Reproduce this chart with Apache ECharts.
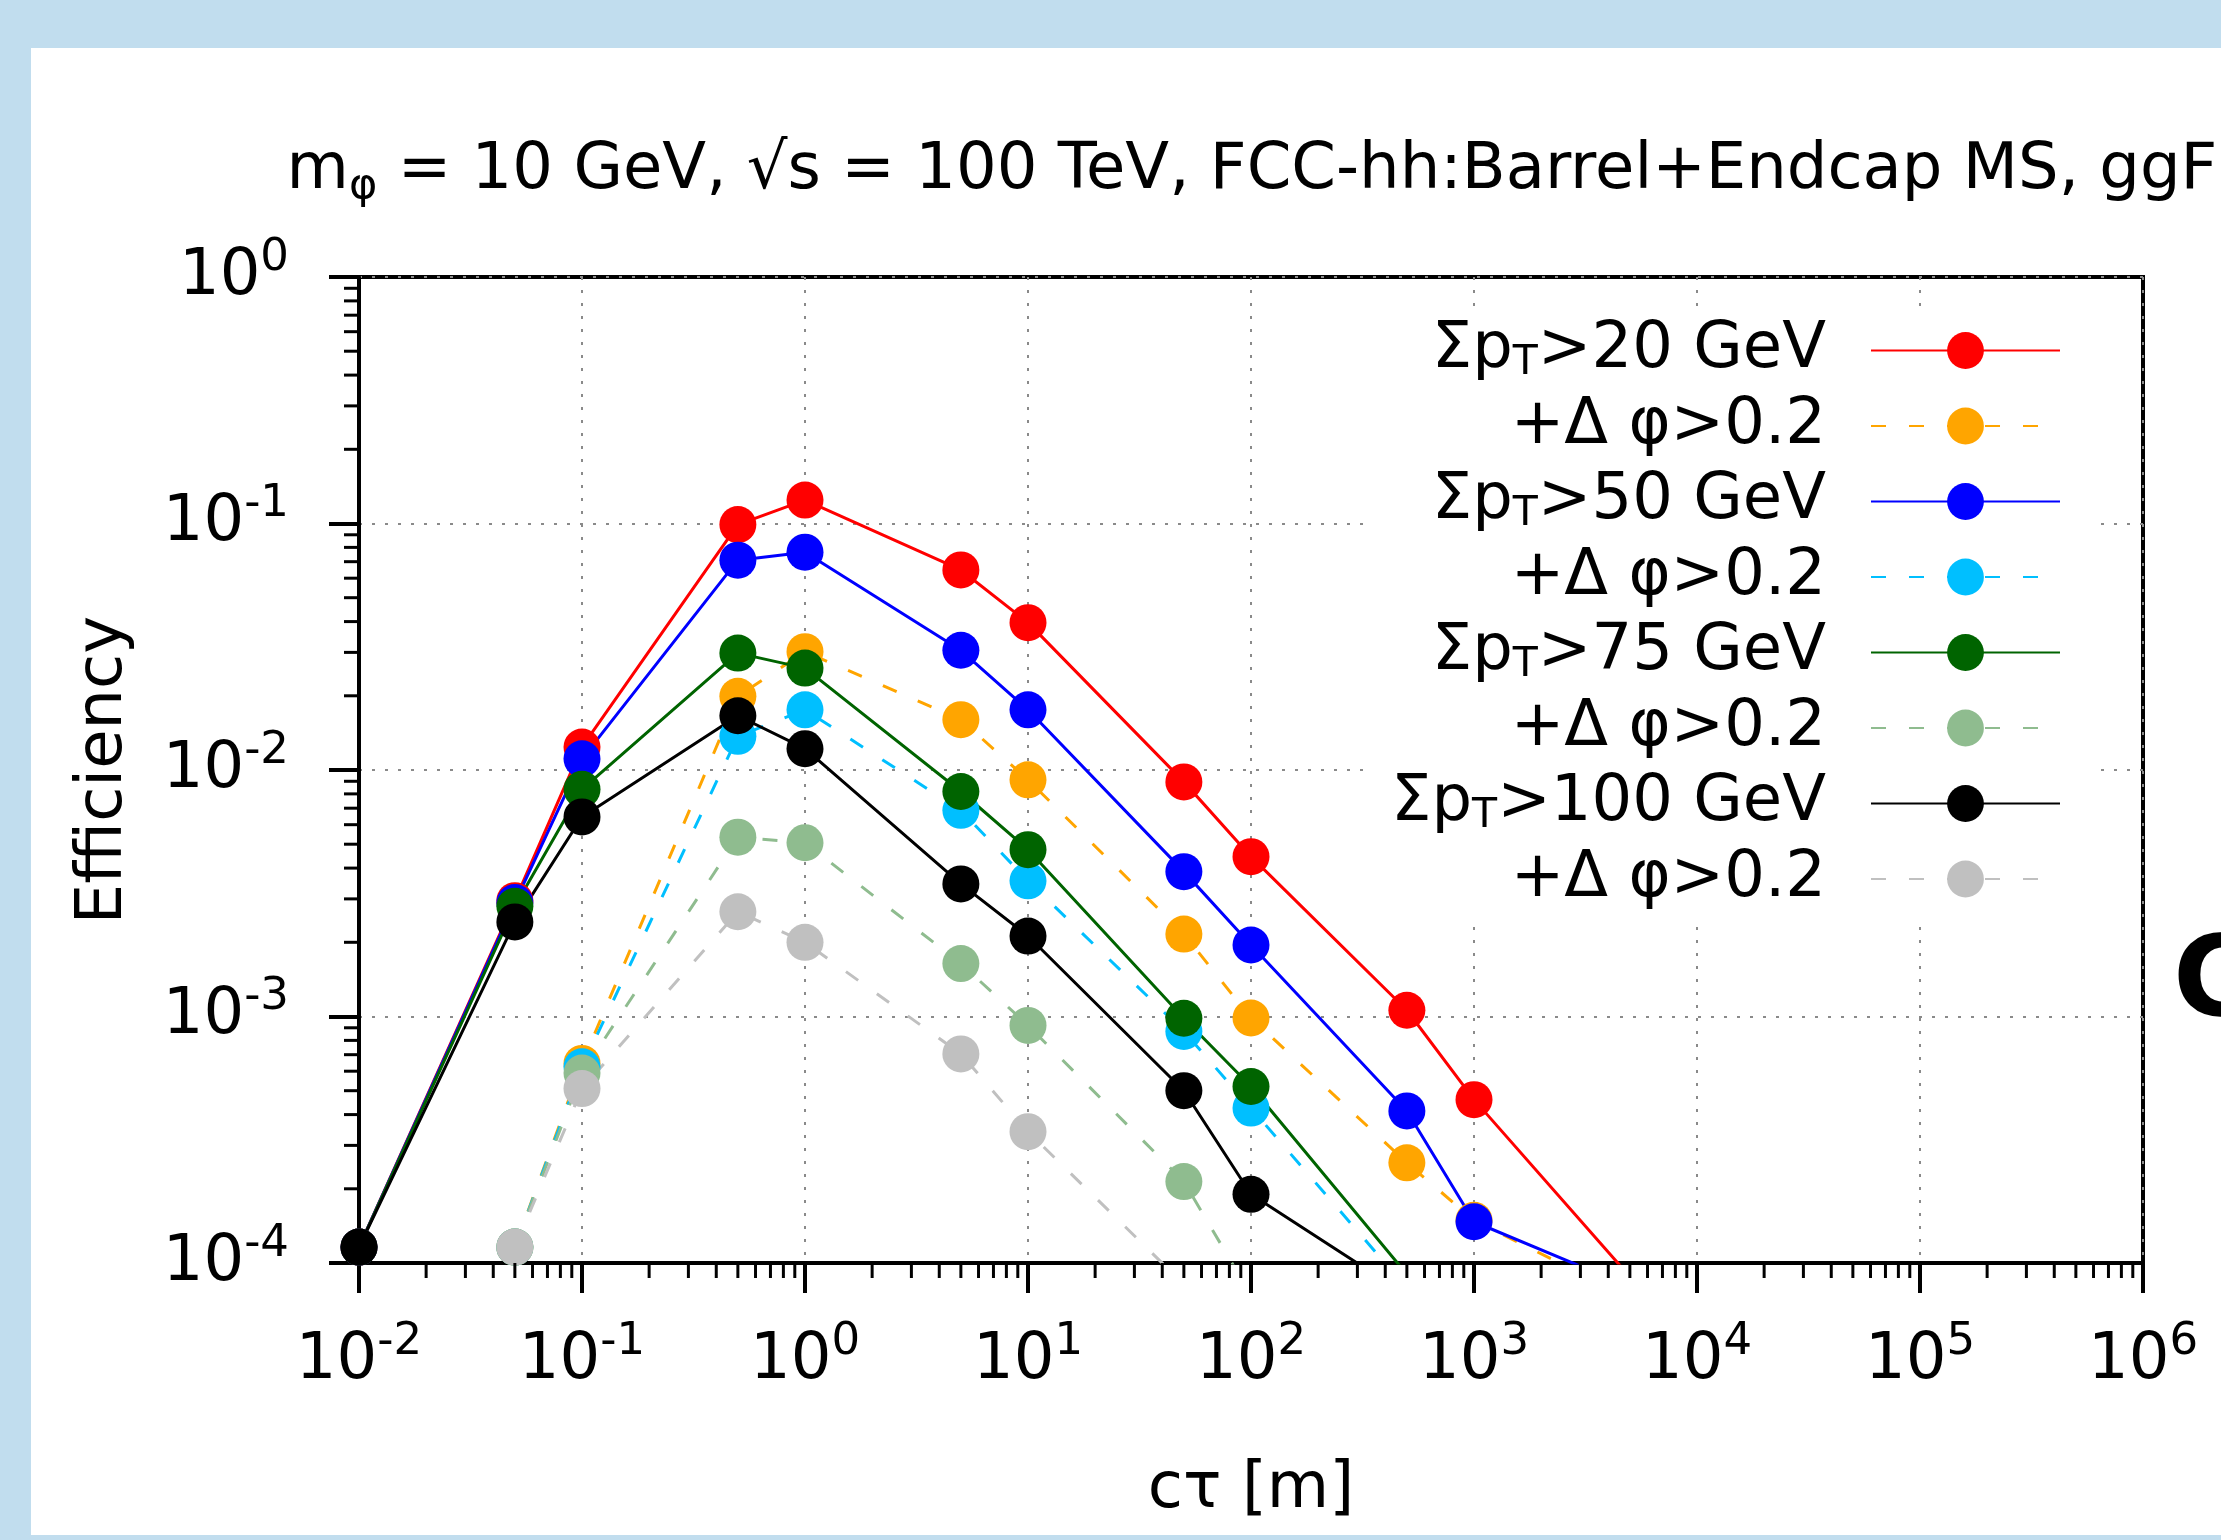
<!DOCTYPE html>
<html>
<head>
<meta charset="utf-8">
<title>Efficiency vs ctau</title>
<script src="https://cdn.jsdelivr.net/npm/echarts@6/dist/echarts.min.js"></script>
<style>
  html, body { margin: 0; padding: 0; background: #c1ddee; }
  #chart { width: 2221px; height: 1540px; }
</style>
</head>
<body>
<div id="chart"></div>
<script>
// c·tau sampling points [m]
const CTAU = [0.01, 0.05, 0.1, 0.5, 1, 5, 10, 50, 100, 500, 1000, 5000];

// efficiencies (null = not drawn)
const EFF_PT20       = [1.16e-4, 2.95e-3, 0.0124, 0.099, 0.1245, 0.0648, 0.0396, 0.00895, 0.00445, 0.00106, 0.00046, 8.8e-5];
const EFF_PT20_DPHI  = [null, 1.16e-4, 6.45e-4, 0.0199, 0.0302, 0.0160, 0.00912, 0.00216, 0.000986, 0.000255, 0.000149, 7.2e-5];
const EFF_PT50       = [1.16e-4, 2.9e-3, 0.0111, 0.071, 0.0765, 0.0306, 0.01755, 0.00387, 0.00195, 0.000414, 0.000147, 8.0e-5];
const EFF_PT50_DPHI  = [null, 1.16e-4, 6.25e-4, 0.0137, 0.01755, 0.00686, 0.00355, 0.00087, 0.000425, 7.9e-5, null, null];
const EFF_PT75       = [1.16e-4, 2.8e-3, 0.00835, 0.0298, 0.0259, 0.00818, 0.00475, 0.000984, 0.00052, 9.0e-5, null, null];
const EFF_PT75_DPHI  = [null, 1.16e-4, 5.9e-4, 0.00534, 0.00507, 0.00164, 0.00092, 0.000214, 7.4e-5, null, null, null];
const EFF_PT100      = [1.16e-4, 2.42e-3, 0.00645, 0.0166, 0.0122, 0.00345, 0.00212, 0.0005, 0.00019, 7.4e-5, null, null];
const EFF_PT100_DPHI = [null, 1.16e-4, 5.1e-4, 0.00266, 0.002, 7.05e-4, 3.41e-4, 8.2e-5, null, null, null, null];

const SERIES_NAMES = ["pt20", "pt20dphi", "pt50", "pt50dphi", "pt75", "pt75dphi", "pt100", "pt100dphi"];
const SERIES_DATA = [EFF_PT20, EFF_PT20_DPHI, EFF_PT50, EFF_PT50_DPHI, EFF_PT75, EFF_PT75_DPHI, EFF_PT100, EFF_PT100_DPHI];
const LEGEND_TEXT = [
  "{m|Σp}{s|T}{e|>20 GeV}",
  "{e|+Δ φ>0.2}",
  "{m|Σp}{s|T}{e|>50 GeV}",
  "{e|+Δ φ>0.2}",
  "{m|Σp}{s|T}{e|>75 GeV}",
  "{e|+Δ φ>0.2}",
  "{m|Σp}{s|T}{e|>100 GeV}",
  "{e|+Δ φ>0.2}",
];

// axis ranges
const X_MIN = 0.01, X_MAX = 1e6;
const Y_MIN = 1e-4, Y_MAX = 1;

const COLORS = ["#ff0000", "#ffa500", "#0000ff", "#00bfff", "#006400", "#8fbc8f", "#000000", "#c0c0c0"];
const DASHED = [false, true, false, true, false, true, false, true];
const FONT = '"DejaVu Sans", sans-serif';

// minor tick positions 2..9 x 10^k inside the axis range
function minorTicks(min, max) {
  const out = [];
  for (let e = Math.round(Math.log10(min)); e < Math.round(Math.log10(max)); e++) {
    for (let m = 2; m <= 9; m++) out.push(m * Math.pow(10, e));
  }
  return out;
}

function powLabel(v) {
  const e = Math.round(Math.log10(v));
  return "{b|10}{p|" + e + "}";
}

const POW_RICH = {
  b: { fontFamily: FONT, fontSize: 64, lineHeight: 64, color: "#000" },
  p: { fontFamily: FONT, fontSize: 45, lineHeight: 45, color: "#000", padding: [0, 0, 38, 0] },
};

const chart = echarts.init(document.getElementById("chart"), null, { renderer: "canvas" });

const lineSeries = SERIES_NAMES.map((name, i) => ({
  name,
  type: "line",
  data: CTAU.map((x, j) => [x, SERIES_DATA[i][j]]),
  symbol: "circle",
  symbolSize: 37,
  showSymbol: true,
  connectNulls: false,
  clip: true,
  itemStyle: { color: COLORS[i] },
  lineStyle: { color: COLORS[i], width: 3, type: DASHED[i] ? [15, 23] : "solid" },
  emphasis: { disabled: true },
}));

const tickSeries = [
  {
    type: "custom",
    silent: true,
    clip: false,
    z: 5,
    data: minorTicks(X_MIN, X_MAX).map(v => [v, Y_MIN]),
    renderItem: (params, api) => {
      const p = api.coord([api.value(0), Y_MIN]);
      return { type: "line", shape: { x1: p[0], y1: p[1], x2: p[0], y2: p[1] + 15 },
               style: { stroke: "#000", lineWidth: 3 } };
    },
  },
  {
    type: "custom",
    silent: true,
    clip: false,
    z: 5,
    data: minorTicks(Y_MIN, Y_MAX).map(v => [X_MIN, v]),
    renderItem: (params, api) => {
      const p = api.coord([X_MIN, api.value(1)]);
      return { type: "line", shape: { x1: p[0] - 15, y1: p[1], x2: p[0], y2: p[1] },
               style: { stroke: "#000", lineWidth: 3 } };
    },
  },
];

chart.setOption({
  animation: false,
  backgroundColor: "#c1ddee",
  textStyle: { fontFamily: FONT },
  graphic: [
    { type: "rect", z: -100, shape: { x: 31, y: 48, width: 2190, height: 1487 }, style: { fill: "#ffffff" } },
    { type: "text", x: 2173, y: 986, style: { text: "C", font: "bold 112px " + FONT, fill: "#000",
      textAlign: "left", textVerticalAlign: "middle" } },
  ],
  title: {
    text: "{m|m}{s|φ}{m| = 10 GeV, √s = 100 TeV, FCC-hh:Barrel+Endcap MS, ggF}",
    left: 1252,
    top: 139,
    padding: 0,
    textAlign: "center",
    textStyle: {
      fontFamily: FONT, fontSize: 64, fontWeight: "normal", color: "#000",
      rich: {
        m: { fontFamily: FONT, fontSize: 64, lineHeight: 64, color: "#000" },
        s: { fontFamily: FONT, fontSize: 43, lineHeight: 43, color: "#000", padding: [32, 0, 0, 0] },
      },
    },
  },
  grid: {
    left: 359, top: 277, width: 1784, height: 986,
    containLabel: false, outerBoundsMode: "none",
    show: true, borderColor: "#000", borderWidth: 4, backgroundColor: "transparent",
  },
  legend: {
    data: SERIES_NAMES,
    orient: "vertical",
    align: "right",
    right: 121,
    top: 314,
    padding: [3, 39, 9, 25],
    itemGap: 10,
    itemWidth: 189,
    itemHeight: 46,
    backgroundColor: "#ffffff",
    selectedMode: false,
    formatter: name => LEGEND_TEXT[SERIES_NAMES.indexOf(name)],
    textStyle: {
      fontFamily: FONT, fontSize: 64, color: "#000",
      rich: {
        m: { fontFamily: FONT, fontSize: 64, lineHeight: 64, color: "#000" },
        e: { fontFamily: FONT, fontSize: 64, lineHeight: 64, color: "#000", padding: [0, 40, 0, 0] },
        s: { fontFamily: FONT, fontSize: 41, lineHeight: 41, color: "#000", padding: [26, 0, 0, 0] },
      },
    },
  },
  xAxis: {
    type: "log",
    logBase: 10,
    min: X_MIN,
    max: X_MAX,
    splitNumber: 8,
    name: "cτ [m]",
    nameLocation: "middle",
    nameGap: 195,
    nameTextStyle: { fontFamily: FONT, fontSize: 64, color: "#000" },
    axisLine: { show: true, lineStyle: { color: "#000", width: 4 } },
    axisTick: { show: true, inside: false, length: 30, lineStyle: { color: "#000", width: 4 } },
    minorTick: { show: false },
    axisLabel: { margin: 66, formatter: powLabel, rich: POW_RICH, showMinLabel: true, showMaxLabel: true },
    splitLine: { show: true, lineStyle: { color: "#8a8a8a", width: 2, type: [3, 10] } },
  },
  yAxis: {
    type: "log",
    logBase: 10,
    min: Y_MIN,
    max: Y_MAX,
    name: "Efficiency",
    nameLocation: "middle",
    nameGap: 223,
    nameTextStyle: { fontFamily: FONT, fontSize: 64, color: "#000" },
    axisLine: { show: true, lineStyle: { color: "#000", width: 4 } },
    axisTick: { show: true, inside: false, length: 30, lineStyle: { color: "#000", width: 4 } },
    minorTick: { show: false },
    axisLabel: { margin: 70, formatter: powLabel, rich: POW_RICH, showMinLabel: true, showMaxLabel: true },
    splitLine: { show: true, lineStyle: { color: "#8a8a8a", width: 2, type: [3, 10] } },
  },
  series: lineSeries.concat(tickSeries),
});
</script>
</body>
</html>
